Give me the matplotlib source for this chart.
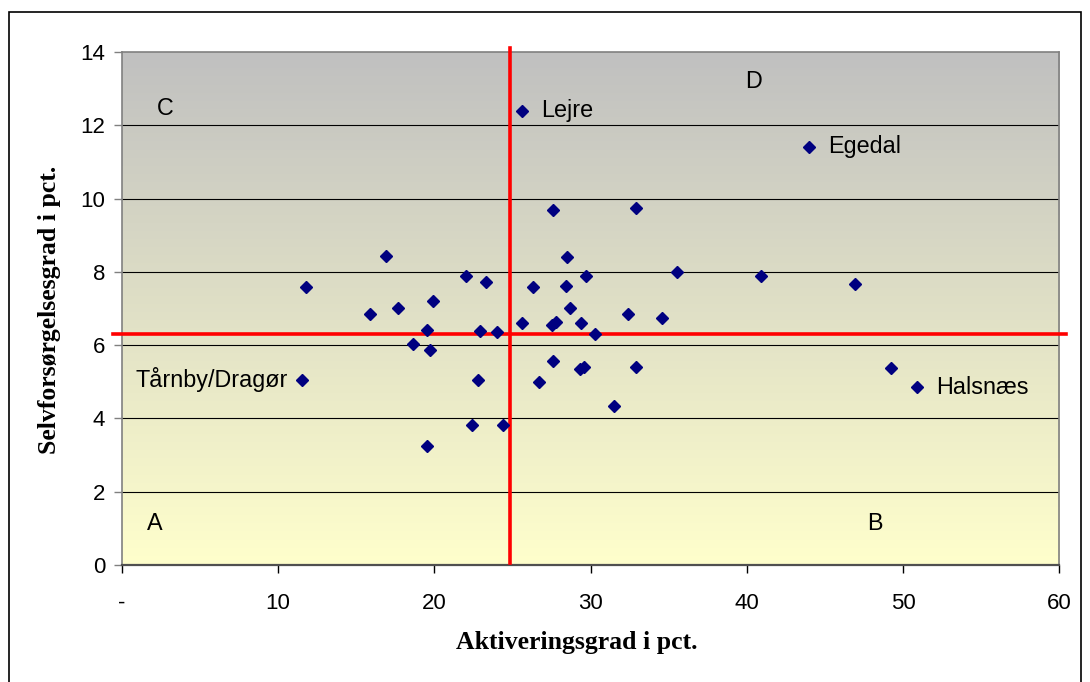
import numpy as np
import matplotlib
matplotlib.use("Agg")
import matplotlib.pyplot as plt
from matplotlib.patches import Rectangle

# aktiveringsgrad (x) og selvforsoergelsesgrad (y), aflaest fra figuren
akt = [11.8, 16.9, 15.9, 17.7, 19.9, 22.0, 23.3, 19.5, 22.9, 24.0, 18.6, 19.7,
       11.5, 22.8, 22.4, 24.4, 19.5, 26.3, 25.6, 26.7, 27.6, 32.9, 28.5, 29.7,
       35.5, 28.4, 28.7, 32.4, 34.6, 27.5, 27.8, 29.4, 30.3, 27.6, 29.3, 29.6,
       32.9, 31.5, 25.6, 44.0, 40.9, 46.9, 49.2, 50.9]
selv = [7.58, 8.44, 6.86, 7.01, 7.21, 7.89, 7.72, 6.40, 6.39, 6.35, 6.03, 5.88,
        5.05, 5.05, 3.82, 3.82, 3.26, 7.58, 6.60, 5.00, 9.68, 9.73, 8.40, 7.89,
        7.99, 7.62, 7.01, 6.86, 6.75, 6.56, 6.63, 6.60, 6.30, 5.57, 5.36, 5.41,
        5.41, 4.33, 12.40, 11.42, 7.88, 7.68, 5.37, 4.85]

# navngivne kommuner
navne = ["Lejre", "Egedal", "Halsnæs", "Tårnby/Dragør"]
navn_x = [25.6, 44.0, 50.9, 11.5]
navn_y = [12.40, 11.42, 4.85, 5.05]

# gennemsnit (roede linjer)
snit_x = 24.85
snit_y = 6.3

felter = ["A", "B", "C", "D"]
felt_x = [2.1, 48.2, 2.8, 40.4]
felt_y = [1.12, 1.12, 12.45, 13.2]

fig = plt.figure(figsize=(10.9, 6.82), dpi=100)
ax = fig.add_axes([0.1119, 0.1716, 0.8599, 0.7522])

# baggrund med graduering fra graa til lysegul
top = np.array([192, 192, 192]) / 255
bund = np.array([255, 255, 204]) / 255
t = np.linspace(0, 1, 256)[:, None]
grad = (top * (1 - t) + bund * t)[:, None, :]
ax.imshow(grad, extent=[0, 60, 0, 14], aspect='auto', zorder=0, interpolation='bilinear')

for g in range(2, 14, 2):
    ax.axhline(g, color='black', linewidth=0.8, zorder=1)

ax.plot(akt, selv, linestyle='none', marker='D', ms=6.3, color='#000080', zorder=4)

ax.plot([-0.6, 60.4], [snit_y, snit_y], color='red', linewidth=2.6, zorder=3, clip_on=False)
ax.plot([snit_x, snit_x], [0.05, 14.1], color='red', linewidth=2.6, zorder=3, clip_on=False)

tfont = 'Liberation Sans'
for n, x, y in zip(navne, navn_x, navn_y):
    if n == "Tårnby/Dragør":
        ax.text(x - 0.9, y, n, ha='right', va='center', fontsize=16.8, family=tfont, zorder=5)
    else:
        ax.text(x + 1.2, y, n, ha='left', va='center', fontsize=16.8, family=tfont, zorder=5)

for f, x, y in zip(felter, felt_x, felt_y):
    ax.text(x, y, f, ha='center', va='center', fontsize=16.8, family=tfont, zorder=5)

ax.set_xlim(0, 60)
ax.set_ylim(0, 14)
ax.set_xticks(range(0, 61, 10))
ax.set_xticklabels(['-', '10', '20', '30', '40', '50', '60'], family=tfont, fontsize=16)
ax.set_yticks(range(0, 15, 2))
ax.set_yticklabels([str(v) for v in range(0, 15, 2)], family=tfont, fontsize=16)
ax.tick_params(axis='x', length=6, width=1, color='black', pad=14)
ax.tick_params(axis='y', length=6, width=1, color='#808080', pad=6)
for s in ['left', 'right', 'top']:
    ax.spines[s].set_color('#808080')
    ax.spines[s].set_linewidth(1.2)
ax.spines['bottom'].set_color('#505050')
ax.spines['bottom'].set_linewidth(1.6)

ax.set_xlabel('Aktiveringsgrad i pct.', family='Liberation Serif', fontweight='bold',
              fontsize=18.5, va='center')
ax.set_ylabel('Selvforsørgelsesgrad i pct.', family='Liberation Serif', fontweight='bold',
              fontsize=18.5, va='center')
ax.xaxis.set_label_coords(0.4855, -0.152)
ax.yaxis.set_label_coords(-0.0768, 0.497)

# ramme om hele diagrammet
fig.patches.append(Rectangle((9 / 1090, -0.01), 1072 / 1090, 0.9924, transform=fig.transFigure,
                             fill=False, edgecolor='black', linewidth=1.2))

fig.savefig('out.png', dpi=100)
